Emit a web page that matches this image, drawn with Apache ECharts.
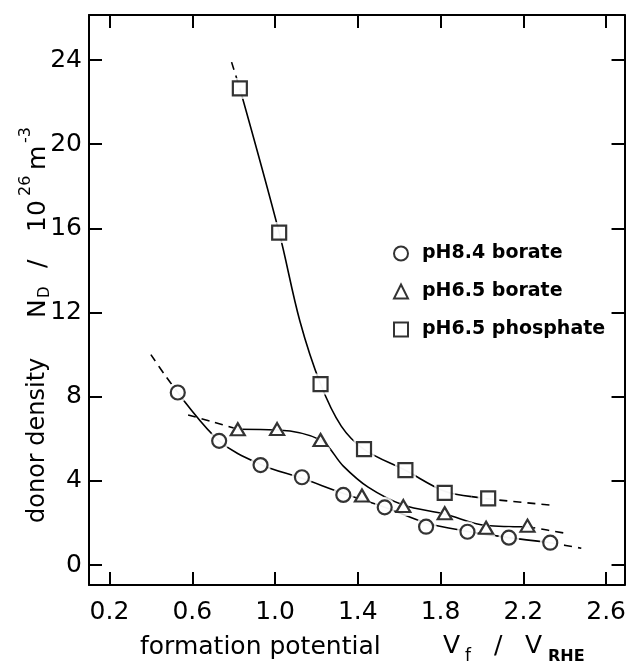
<!DOCTYPE html>
<html>
<head>
<meta charset="utf-8">
<script src="https://cdn.jsdelivr.net/npm/echarts@6/dist/echarts.min.js"></script>
<style>html,body{margin:0;padding:0;background:#fff;}#c{width:629px;height:664px;}</style>
</head>
<body>
<div id="c"></div>
<script>
// ---- data ----
const xTicks = [0.2, 0.6, 1.0, 1.4, 1.8, 2.2, 2.6];
const yTicks = [0, 4, 8, 12, 16, 20, 24];
const xTickLabels = ['0.2', '0.6', '1.0', '1.4', '1.8', '2.2', '2.6'];
const yTickLabels = ['0', '4', '8', '12', '16', '20', '24'];

const seriesNames = ['pH8.4 borate', 'pH6.5 borate', 'pH6.5 phosphate'];

const circleX = [0.53, 0.73, 0.93, 1.13, 1.33, 1.53, 1.73, 1.93, 2.13, 2.33];
const circleY = [8.2, 5.9, 4.75, 4.17, 3.33, 2.74, 1.82, 1.58, 1.30, 1.06];

const triX = [0.82, 1.01, 1.22, 1.42, 1.62, 1.82, 2.02, 2.22];
const triY = [6.45, 6.46, 5.94, 3.30, 2.80, 2.46, 1.77, 1.87];

const sqX = [0.83, 1.02, 1.22, 1.43, 1.63, 1.82, 2.03];
const sqY = [22.65, 15.8, 8.6, 5.51, 4.51, 3.43, 3.17];

// hand-drawn guide curves
const circleCurve = [[0.53, 8.2], [0.73, 5.9], [0.93, 4.78], [1.13, 4.12], [1.33, 3.4], [1.53, 2.75], [1.73, 2.0], [1.93, 1.6], [2.13, 1.3], [2.33, 1.06]];
const circleDashL = [[0.40, 10.0], [0.47, 9.0], [0.53, 8.2]];
const circleDashR = [[2.33, 1.06], [2.48, 0.8]];

const triCurve = [[0.82, 6.45], [1.01, 6.42], [1.22, 5.94], [1.33, 4.7], [1.45, 3.7], [1.62, 2.85], [1.82, 2.42], [2.02, 1.88], [2.22, 1.82]];
const triDashL = [[0.58, 7.13], [0.70, 6.8], [0.82, 6.45]];
const triDashR = [[2.22, 1.82], [2.41, 1.5]];

const sqCurve = [[0.83, 22.65], [1.02, 15.8], [1.12, 11.6], [1.22, 8.6], [1.32, 6.6], [1.43, 5.5], [1.63, 4.5], [1.82, 3.5], [1.95, 3.25]];
const sqDashT = [[0.79, 23.9], [0.83, 22.65]];
const sqDashR = [[1.95, 3.25], [2.08, 3.09], [2.33, 2.85]];

// ---- chart ----
const FONT = 'DejaVu Sans';
const zip = (xs, ys) => xs.map((x, i) => [x, ys[i]]);

const chart = echarts.init(document.getElementById('c'), null, {renderer: 'canvas'});

const axisCommon = {
  type: 'value',
  splitLine: {show: false},
  axisLine: {show: true, onZero: false, lineStyle: {color: '#000', width: 2}},
  axisTick: {show: true, inside: true, length: 13, lineStyle: {color: '#000', width: 2}},
};

function curve(data, dashed) {
  return {
    type: 'line', data: data, smooth: 0.35, showSymbol: false, silent: true, z: 2,
    lineStyle: {color: '#000', width: 1.6, type: dashed ? [8, 6] : 'solid'},
    emphasis: {disabled: true}
  };
}
function halo(data, symbol, size) {
  return {
    type: 'scatter', data: data, symbol: symbol, symbolSize: size, silent: true, z: 3,
    itemStyle: {color: '#fff', borderWidth: 0}
  };
}
function marks(name, data, symbol, size) {
  return {
    name: name, type: 'scatter', data: data, symbol: symbol, symbolSize: size, z: 4,
    itemStyle: {color: '#fff', borderColor: '#000', borderWidth: 2.2}
  };
}

const C = zip(circleX, circleY), T = zip(triX, triY), S = zip(sqX, sqY);
const txt = (x, y, text, size, extra) => Object.assign({
  type: 'text', x: x, y: y,
  style: {text: text, font: (extra && extra.bold ? 'bold ' : '') + size + 'px "DejaVu Sans"', fill: '#000', textVerticalAlign: 'middle'}
}, extra && extra.rot ? {rotation: Math.PI / 2} : {});

chart.setOption({
  animation: false,
  backgroundColor: '#fff',
  grid: {left: 89, right: 2, top: 15, bottom: 79},
  xAxis: [
    Object.assign({}, axisCommon, {
      position: 'bottom', min: 0.101, max: 2.689,
      axisTick: Object.assign({}, axisCommon.axisTick, {customValues: xTicks}),
      axisLabel: {customValues: xTicks, margin: 15, color: '#000', fontFamily: FONT, fontSize: 25,
        formatter: v => xTickLabels[xTicks.findIndex(t => Math.abs(t - v) < 1e-6)] || ''}
    }),
    Object.assign({}, axisCommon, {
      position: 'top', min: 0.101, max: 2.689,
      axisTick: Object.assign({}, axisCommon.axisTick, {customValues: xTicks}),
      axisLabel: {show: false}
    })
  ],
  yAxis: [
    Object.assign({}, axisCommon, {
      position: 'left', min: -0.95, max: 26.14,
      axisTick: Object.assign({}, axisCommon.axisTick, {customValues: yTicks}),
      axisLabel: {customValues: yTicks, margin: 7, color: '#000', fontFamily: FONT, fontSize: 25,
        formatter: v => yTickLabels[yTicks.findIndex(t => Math.abs(t - v) < 1e-6)] || ''}
    }),
    Object.assign({}, axisCommon, {
      position: 'right', min: -0.95, max: 26.14,
      axisTick: Object.assign({}, axisCommon.axisTick, {customValues: yTicks}),
      axisLabel: {show: false}
    })
  ],
  legend: {
    data: seriesNames, orient: 'vertical', left: 388, top: 239, itemGap: 19,
    itemWidth: 14, itemHeight: 14, selectedMode: false,
    textStyle: {color: '#000', fontFamily: FONT, fontSize: 19, fontWeight: 'bold', padding: [0, 0, 0, 9]}
  },
  series: [
    curve(circleCurve, false), curve(circleDashL, true), curve(circleDashR, true),
    curve(triCurve, false), curve(triDashL, true), curve(triDashR, true),
    curve(sqCurve, false), curve(sqDashT, true), curve(sqDashR, true),
    halo(C, 'circle', 21), halo(T, 'triangle', 20), halo(S, 'rect', 21),
    marks(seriesNames[0], C, 'circle', 14),
    marks(seriesNames[1], T, 'triangle', [14, 12]),
    marks(seriesNames[2], S, 'rect', 14)
  ],
  graphic: [
    // x-axis title
    txt(140, 647, 'formation potential', 25),
    txt(443, 646, 'V', 25),
    txt(465, 657, 'f', 17),
    txt(494, 646, '/', 25),
    txt(525, 646, 'V', 25),
    txt(548, 657, 'RHE', 16, {bold: true}),
    // y-axis title (rotated, read bottom to top)
    txt(38, 523, 'donor density', 24, {rot: true}),
    txt(38, 318, 'N', 25, {rot: true}),
    txt(45, 298, 'D', 15, {rot: true}),
    txt(38, 268, '/', 25, {rot: true}),
    txt(38, 232, '10', 25, {rot: true}),
    txt(26, 196, '26', 16, {rot: true}),
    txt(38, 170, 'm', 25, {rot: true}),
    txt(26, 143, '-3', 16, {rot: true})
  ]
});
</script>
</body>
</html>
